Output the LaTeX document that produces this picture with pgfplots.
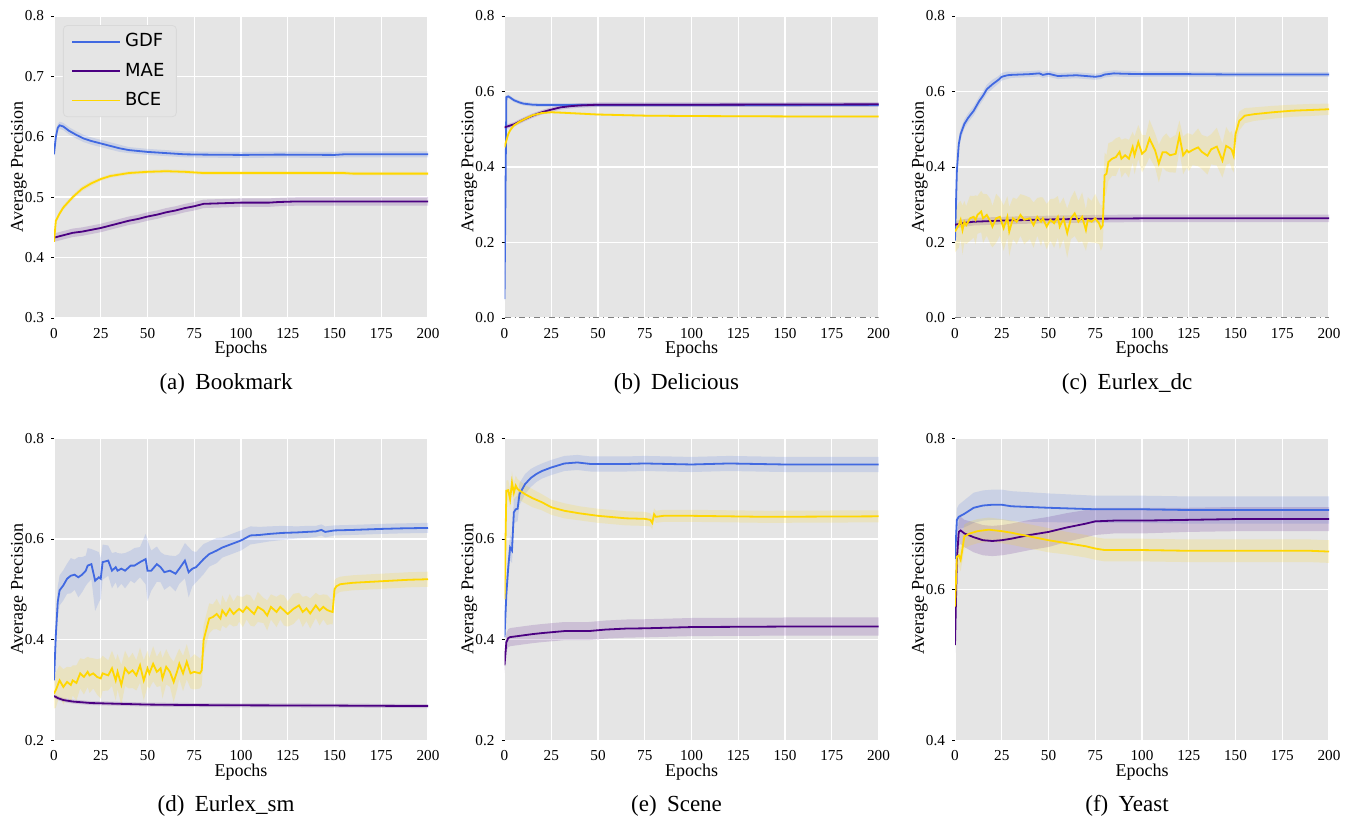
\documentclass[border=0pt]{standalone}
\usepackage{fontspec}
\setmainfont{Liberation Serif}
\newfontfamily\legendfont{DejaVu Sans}
\usepackage{pgfplots}
\usepackage{pgfplotstable}
\pgfplotsset{compat=1.18}
\usepgfplotslibrary{fillbetween}

\definecolor{gdf}{HTML}{4169E1}
\definecolor{mae}{HTML}{4B0082}
\definecolor{bce}{HTML}{FFD700}
\definecolor{panelbg}{HTML}{E5E5E5}

% each table: epoch, mean, std
% ---------- (a) Bookmark
\pgfplotstableread{
x y s
0 0.571 0.006
1 0.600 0.006
2 0.615 0.006
3 0.619 0.006
5 0.617 0.006
8 0.610 0.006
12 0.603 0.006
16 0.597 0.006
20 0.593 0.006
25 0.589 0.006
30 0.585 0.006
35 0.581 0.006
40 0.578 0.005
50 0.575 0.005
60 0.573 0.005
70 0.571 0.005
80 0.5705 0.005
100 0.570 0.005
120 0.5705 0.005
150 0.570 0.005
155 0.571 0.005
200 0.571 0.005
}\tabAG
\pgfplotstableread{
x y s
0 0.433 0.007
5 0.437 0.007
10 0.441 0.007
15 0.443 0.007
20 0.446 0.007
25 0.449 0.007
30 0.453 0.007
35 0.457 0.007
40 0.461 0.007
45 0.464 0.007
50 0.468 0.007
55 0.471 0.007
60 0.475 0.007
65 0.478 0.007
70 0.482 0.007
75 0.485 0.007
80 0.489 0.007
90 0.490 0.007
100 0.491 0.007
115 0.491 0.007
120 0.492 0.007
130 0.493 0.007
200 0.493 0.007
}\tabAM
\pgfplotstableread{
x y s
0 0.426 0.004
1 0.461 0.004
3 0.473 0.004
5 0.483 0.004
10 0.500 0.004
15 0.514 0.004
20 0.523 0.004
25 0.530 0.003
30 0.535 0.003
40 0.540 0.003
50 0.542 0.003
60 0.543 0.003
70 0.542 0.003
75 0.541 0.003
80 0.540 0.003
155 0.540 0.003
160 0.539 0.003
200 0.539 0.003
}\tabAB
% ---------- (b) Delicious
\pgfplotstableread{
x y s
0 0.050 0.004
1 0.585 0.005
2 0.587 0.005
3 0.584 0.005
5 0.577 0.005
8 0.571 0.005
10 0.568 0.005
15 0.565 0.005
20 0.564 0.005
30 0.564 0.005
60 0.564 0.005
100 0.564 0.005
150 0.564 0.005
200 0.564 0.005
}\tabBG
\pgfplotstableread{
x y s
0 0.505 0.006
5 0.513 0.006
10 0.525 0.006
15 0.536 0.006
20 0.545 0.006
25 0.552 0.006
30 0.558 0.006
35 0.561 0.006
40 0.563 0.006
50 0.565 0.006
100 0.565 0.006
200 0.566 0.006
}\tabBM
\pgfplotstableread{
x y s
0 0.452 0.004
1 0.470 0.004
2 0.487 0.004
3 0.497 0.004
5 0.510 0.004
8 0.520 0.004
10 0.525 0.004
15 0.537 0.003
20 0.543 0.003
25 0.545 0.003
30 0.544 0.003
50 0.539 0.003
75 0.536 0.003
100 0.535 0.003
150 0.534 0.003
200 0.534 0.003
}\tabBB
% ---------- (c) Eurlex_dc
\pgfplotstableread{
x y s
0 0.205 0.010
1 0.390 0.020
2 0.460 0.015
3 0.487 0.015
5 0.514 0.012
7 0.530 0.012
10 0.549 0.012
13 0.575 0.012
15 0.589 0.012
17 0.606 0.012
20 0.619 0.012
23 0.630 0.010
25 0.639 0.010
28 0.643 0.010
30 0.644 0.008
35 0.645 0.008
40 0.646 0.008
45 0.648 0.008
47 0.644 0.008
50 0.647 0.008
55 0.641 0.008
60 0.642 0.008
65 0.643 0.008
70 0.641 0.008
75 0.639 0.008
78 0.641 0.008
80 0.645 0.008
85 0.648 0.008
90 0.647 0.008
100 0.646 0.007
125 0.646 0.007
150 0.645 0.006
200 0.645 0.006
}\tabCG
\pgfplotstableread{
x y s
0 0.247 0.010
5 0.252 0.010
10 0.255 0.010
25 0.258 0.010
50 0.261 0.010
75 0.263 0.010
100 0.264 0.010
200 0.264 0.010
}\tabCM
\pgfplotstableread{
x y s
0 0.229 0.055
2 0.246 0.060
3 0.260 0.050
4 0.233 0.065
5 0.255 0.055
6 0.246 0.050
8 0.264 0.060
10 0.268 0.055
11 0.260 0.065
12 0.273 0.050
14 0.282 0.055
15 0.264 0.065
17 0.273 0.055
19 0.255 0.060
20 0.242 0.055
22 0.264 0.065
24 0.268 0.050
26 0.238 0.060
28 0.268 0.055
29 0.229 0.065
31 0.264 0.055
33 0.255 0.060
35 0.273 0.055
37 0.260 0.065
40 0.264 0.055
42 0.246 0.060
44 0.268 0.050
46 0.255 0.065
47 0.264 0.055
49 0.242 0.060
51 0.260 0.055
53 0.251 0.065
55 0.268 0.055
56 0.242 0.060
58 0.264 0.055
60 0.225 0.065
62 0.264 0.055
64 0.277 0.060
66 0.255 0.055
68 0.268 0.065
70 0.233 0.055
71 0.260 0.060
73 0.255 0.055
75 0.264 0.065
77 0.251 0.055
78 0.238 0.060
79 0.245 0.055
80 0.378 0.060
81 0.382 0.050
82 0.413 0.050
84 0.422 0.045
86 0.426 0.050
88 0.440 0.040
89 0.422 0.050
91 0.431 0.045
93 0.422 0.050
95 0.453 0.040
96 0.431 0.050
98 0.466 0.045
100 0.435 0.050
102 0.444 0.040
104 0.475 0.050
107 0.444 0.045
109 0.409 0.050
111 0.439 0.040
113 0.439 0.050
115 0.431 0.045
118 0.435 0.050
120 0.483 0.040
122 0.431 0.050
124 0.444 0.045
125 0.439 0.050
127 0.445 0.040
130 0.452 0.050
132 0.440 0.045
135 0.430 0.050
137 0.447 0.040
140 0.454 0.050
143 0.417 0.045
145 0.456 0.050
147 0.450 0.040
148 0.445 0.050
149 0.430 0.045
150 0.487 0.030
152 0.522 0.025
155 0.536 0.020
160 0.540 0.018
170 0.545 0.017
180 0.549 0.016
190 0.551 0.016
200 0.553 0.015
}\tabCB
% ---------- (d) Eurlex_sm
\pgfplotstableread{
x y s
0 0.319 0.010
1 0.410 0.020
2 0.475 0.030
3 0.498 0.030
5 0.508 0.030
7 0.521 0.030
9 0.527 0.035
11 0.529 0.030
13 0.524 0.040
15 0.529 0.035
17 0.537 0.030
18 0.547 0.035
20 0.550 0.030
22 0.517 0.060
24 0.524 0.050
25 0.521 0.040
26 0.554 0.035
29 0.557 0.030
31 0.537 0.035
33 0.544 0.030
34 0.537 0.035
36 0.541 0.030
38 0.537 0.035
41 0.547 0.030
43 0.547 0.035
46 0.554 0.030
49 0.560 0.050
50 0.537 0.060
52 0.537 0.040
55 0.550 0.035
57 0.544 0.030
59 0.534 0.035
62 0.537 0.030
65 0.531 0.035
67 0.541 0.030
70 0.557 0.035
72 0.534 0.050
74 0.541 0.035
76 0.544 0.030
80 0.560 0.030
83 0.570 0.025
87 0.577 0.025
90 0.583 0.020
95 0.590 0.020
100 0.597 0.020
105 0.607 0.018
110 0.608 0.016
115 0.610 0.015
122 0.612 0.014
130 0.613 0.012
135 0.614 0.012
140 0.615 0.011
143 0.618 0.011
145 0.614 0.011
150 0.617 0.010
160 0.618 0.010
175 0.620 0.010
185 0.621 0.010
200 0.622 0.010
}\tabDG
\pgfplotstableread{
x y s
0 0.288 0.004
2 0.284 0.004
5 0.280 0.004
10 0.277 0.004
20 0.274 0.004
30 0.273 0.004
50 0.271 0.004
75 0.270 0.004
100 0.2695 0.004
150 0.269 0.004
200 0.268 0.004
}\tabDM
\pgfplotstableread{
x y s
0 0.293 0.030
1 0.300 0.035
3 0.319 0.030
5 0.306 0.035
7 0.316 0.030
9 0.310 0.035
10 0.319 0.030
12 0.314 0.035
14 0.333 0.030
16 0.326 0.035
18 0.336 0.030
19 0.329 0.035
21 0.333 0.030
23 0.326 0.035
25 0.323 0.040
26 0.333 0.035
29 0.329 0.030
31 0.343 0.035
33 0.319 0.040
34 0.336 0.035
36 0.310 0.040
38 0.343 0.035
40 0.333 0.030
42 0.339 0.035
44 0.329 0.030
46 0.349 0.035
48 0.319 0.040
50 0.343 0.035
51 0.333 0.030
53 0.352 0.035
55 0.336 0.030
57 0.343 0.035
58 0.323 0.040
60 0.346 0.035
62 0.336 0.030
64 0.316 0.040
66 0.339 0.035
67 0.352 0.030
69 0.333 0.035
71 0.356 0.035
73 0.333 0.030
75 0.336 0.035
78 0.333 0.030
79 0.339 0.030
80 0.399 0.030
82 0.428 0.030
83 0.442 0.030
85 0.445 0.025
87 0.451 0.030
89 0.442 0.025
90 0.458 0.030
92 0.448 0.025
94 0.461 0.030
96 0.451 0.025
98 0.458 0.030
99 0.461 0.025
101 0.455 0.030
103 0.465 0.025
105 0.458 0.030
107 0.451 0.025
109 0.465 0.030
112 0.458 0.025
114 0.448 0.030
116 0.465 0.025
119 0.455 0.030
121 0.465 0.025
123 0.458 0.030
125 0.451 0.025
128 0.461 0.030
131 0.468 0.025
133 0.455 0.030
135 0.462 0.025
137 0.452 0.030
140 0.468 0.025
142 0.458 0.030
144 0.465 0.025
146 0.459 0.030
148 0.456 0.025
149 0.455 0.025
150 0.500 0.018
151 0.506 0.016
153 0.510 0.015
155 0.511 0.015
160 0.513 0.015
175 0.516 0.015
190 0.519 0.015
200 0.520 0.015
}\tabDB
% ---------- (e) Scene
\pgfplotstableread{
x y s
0 0.405 0.010
1 0.491 0.025
2 0.544 0.025
3 0.583 0.025
4 0.577 0.025
5 0.653 0.025
6 0.659 0.025
7 0.660 0.025
8 0.689 0.022
11 0.709 0.020
14 0.721 0.018
17 0.729 0.016
20 0.735 0.015
25 0.742 0.015
32 0.750 0.015
39 0.752 0.015
46 0.749 0.015
55 0.749 0.015
65 0.749 0.015
75 0.750 0.015
100 0.748 0.015
120 0.750 0.015
150 0.748 0.015
200 0.748 0.015
}\tabEG
\pgfplotstableread{
x y s
0 0.349 0.015
1 0.395 0.018
2 0.403 0.018
3 0.405 0.018
7 0.407 0.018
15 0.411 0.018
20 0.413 0.018
32 0.417 0.018
45 0.417 0.018
54 0.420 0.018
65 0.422 0.018
75 0.4225 0.018
100 0.425 0.018
150 0.426 0.018
200 0.426 0.018
}\tabEM
\pgfplotstableread{
x y s
0 0.480 0.020
1 0.696 0.020
2 0.697 0.020
3 0.679 0.020
4 0.712 0.022
5 0.692 0.020
6 0.706 0.020
7 0.699 0.020
11 0.689 0.018
15 0.681 0.018
20 0.673 0.016
25 0.663 0.015
32 0.656 0.015
40 0.651 0.014
50 0.646 0.014
65 0.641 0.014
75 0.640 0.014
78 0.638 0.013
79 0.632 0.013
80 0.649 0.012
81 0.644 0.012
85 0.646 0.012
100 0.646 0.012
140 0.644 0.012
200 0.645 0.012
}\tabEB
% ---------- (f) Yeast
\pgfplotstableread{
x y s
0 0.640 0.010
1 0.692 0.015
2 0.696 0.016
5 0.700 0.018
10 0.708 0.020
15 0.711 0.020
20 0.712 0.020
25 0.712 0.020
30 0.710 0.020
50 0.708 0.019
75 0.706 0.018
100 0.706 0.018
125 0.705 0.018
150 0.705 0.018
200 0.705 0.018
}\tabFG
\pgfplotstableread{
x y s
0 0.526 0.010
1 0.639 0.015
2 0.676 0.018
3 0.678 0.018
5 0.674 0.018
10 0.669 0.020
15 0.665 0.020
20 0.664 0.020
25 0.665 0.020
30 0.667 0.020
40 0.672 0.020
50 0.676 0.020
60 0.682 0.019
70 0.687 0.018
75 0.690 0.018
85 0.691 0.017
100 0.691 0.017
125 0.692 0.016
150 0.693 0.016
200 0.693 0.016
}\tabFM
\pgfplotstableread{
x y s
0 0.577 0.010
1 0.643 0.015
2 0.645 0.015
3 0.639 0.015
4 0.654 0.016
5 0.670 0.016
8 0.674 0.016
12 0.677 0.016
18 0.679 0.016
25 0.677 0.016
30 0.675 0.016
40 0.670 0.016
50 0.665 0.016
60 0.661 0.015
70 0.657 0.015
75 0.654 0.015
80 0.652 0.015
100 0.652 0.015
125 0.651 0.015
150 0.651 0.015
190 0.651 0.015
200 0.650 0.015
}\tabFB

% band (mean +- std) of a table
\newcommand\stdband[3]{%
  \addplot[draw=none, forget plot, name path=#3up] table[x=x, y expr=\thisrow{y}+\thisrow{s}] {#1};
  \addplot[draw=none, forget plot, name path=#3lo] table[x=x, y expr=\thisrow{y}-\thisrow{s}] {#1};
  \addplot[fill=#2, fill opacity=0.16, draw=none, forget plot] fill between[of=#3up and #3lo];
}
\newcommand\meancurve[2]{\addplot[#2, line width=0.9pt, forget plot] table[x=x, y=y] {#1};}

\pgfplotsset{
  panel/.style={
    anchor=north west,
    scale only axis, width=187pt, height=151pt,
    xmin=0, xmax=200, xtick={0,25,...,200},
    axis background/.style={fill=panelbg},
    axis line style={draw=none},
    grid=major, major grid style={white, line width=0.7pt},
    ytick pos=left, xtick pos=bottom,
    tick align=outside, major tick length=1.5pt,
    xtick style={draw=none}, ytick style={black, line width=0.3pt},
    tick label style={font=\fontsize{7.6}{8}\selectfont},
    /pgf/number format/assume math mode=true,
    yticklabel style={/pgf/number format/.cd, fixed, fixed zerofill, precision=1},
    xlabel={Epochs}, ylabel={Average Precision},
    label style={font=\fontsize{9}{10}\selectfont},
    xlabel style={at={(axis description cs:0.5,-0.104)}, anchor=center},
    ylabel style={at={(axis description cs:-0.094,0.5)}, anchor=center},
    every axis title shift=0pt,
    title style={at={(axis description cs:0.46,-0.218)}, anchor=center,
                 font=\fontsize{11.5}{13}\selectfont},
  },
}

\begin{document}
\begin{tikzpicture}
\path (0,0) rectangle (677pt,-410.5pt);

% (a)
\begin{axis}[panel, at={(27pt,-8pt)}, ymin=0.3, ymax=0.8,
  ytick={0.3,0.4,0.5,0.6,0.7,0.8},
  title={(a)\hspace{0.45em}Bookmark},
  legend style={at={(0.024,0.97)}, anchor=north west,
    font=\legendfont\fontsize{9}{10}\selectfont,
    draw=black!15, fill=panelbg, rounded corners=2pt, row sep=2.6pt,
    inner xsep=4pt, inner ysep=2pt},
  legend cell align=left,
  legend image code/.code={\draw[#1] (0pt,0pt) -- (19pt,0pt); \path (0pt,0pt) -- (24pt,0pt);}]
  \stdband{\tabAG}{gdf}{ag}
  \stdband{\tabAM}{mae}{am}
  \stdband{\tabAB}{bce}{ab}
  \meancurve{\tabAG}{gdf}
  \meancurve{\tabAM}{mae}
  \meancurve{\tabAB}{bce}
  \addlegendimage{gdf, line width=0.9pt}
  \addlegendentry{GDF}
  \addlegendimage{mae, line width=0.9pt}
  \addlegendentry{MAE}
  \addlegendimage{bce, line width=0.9pt}
  \addlegendentry{BCE}
\end{axis}

% (b)
\begin{axis}[panel, at={(252.25pt,-8pt)}, ymin=0, ymax=0.8,
  ytick={0,0.2,0.4,0.6,0.8},
  title={(b)\hspace{0.45em}Delicious}]
  \stdband{\tabBG}{gdf}{bg}
  \stdband{\tabBM}{mae}{bm}
  \stdband{\tabBB}{bce}{bb}
  \addplot[gray, dash dot, line width=0.7pt, forget plot] coordinates {(0,0) (200,0)};
  \meancurve{\tabBG}{gdf}
  \meancurve{\tabBM}{mae}
  \meancurve{\tabBB}{bce}
\end{axis}

% (c)
\begin{axis}[panel, at={(477.5pt,-8pt)}, ymin=0, ymax=0.8,
  ytick={0,0.2,0.4,0.6,0.8},
  title={(c)\hspace{0.45em}Eurlex\_dc}]
  \stdband{\tabCG}{gdf}{cg}
  \stdband{\tabCM}{mae}{cm}
  \stdband{\tabCB}{bce}{cb}
  \addplot[gray, dash dot, line width=0.7pt, forget plot] coordinates {(0,0) (200,0)};
  \meancurve{\tabCG}{gdf}
  \meancurve{\tabCM}{mae}
  \meancurve{\tabCB}{bce}
\end{axis}

% (d)
\begin{axis}[panel, at={(27pt,-219.15pt)}, ymin=0.2, ymax=0.8,
  ytick={0.2,0.4,0.6,0.8},
  title={(d)\hspace{0.45em}Eurlex\_sm}]
  \stdband{\tabDG}{gdf}{dg}
  \stdband{\tabDM}{mae}{dm}
  \stdband{\tabDB}{bce}{db}
  \meancurve{\tabDG}{gdf}
  \meancurve{\tabDM}{mae}
  \meancurve{\tabDB}{bce}
\end{axis}

% (e)
\begin{axis}[panel, at={(252.25pt,-219.15pt)}, ymin=0.2, ymax=0.8,
  ytick={0.2,0.4,0.6,0.8},
  title={(e)\hspace{0.45em}Scene}]
  \stdband{\tabEG}{gdf}{eg}
  \stdband{\tabEM}{mae}{em}
  \stdband{\tabEB}{bce}{eb}
  \meancurve{\tabEG}{gdf}
  \meancurve{\tabEM}{mae}
  \meancurve{\tabEB}{bce}
\end{axis}

% (f)
\begin{axis}[panel, at={(477.5pt,-219.15pt)}, ymin=0.4, ymax=0.8,
  ytick={0.4,0.6,0.8},
  title={(f)\hspace{0.45em}Yeast}]
  \stdband{\tabFG}{gdf}{fg}
  \stdband{\tabFM}{mae}{fm}
  \stdband{\tabFB}{bce}{fb}
  \meancurve{\tabFG}{gdf}
  \meancurve{\tabFM}{mae}
  \meancurve{\tabFB}{bce}
\end{axis}
\end{tikzpicture}
\end{document}
